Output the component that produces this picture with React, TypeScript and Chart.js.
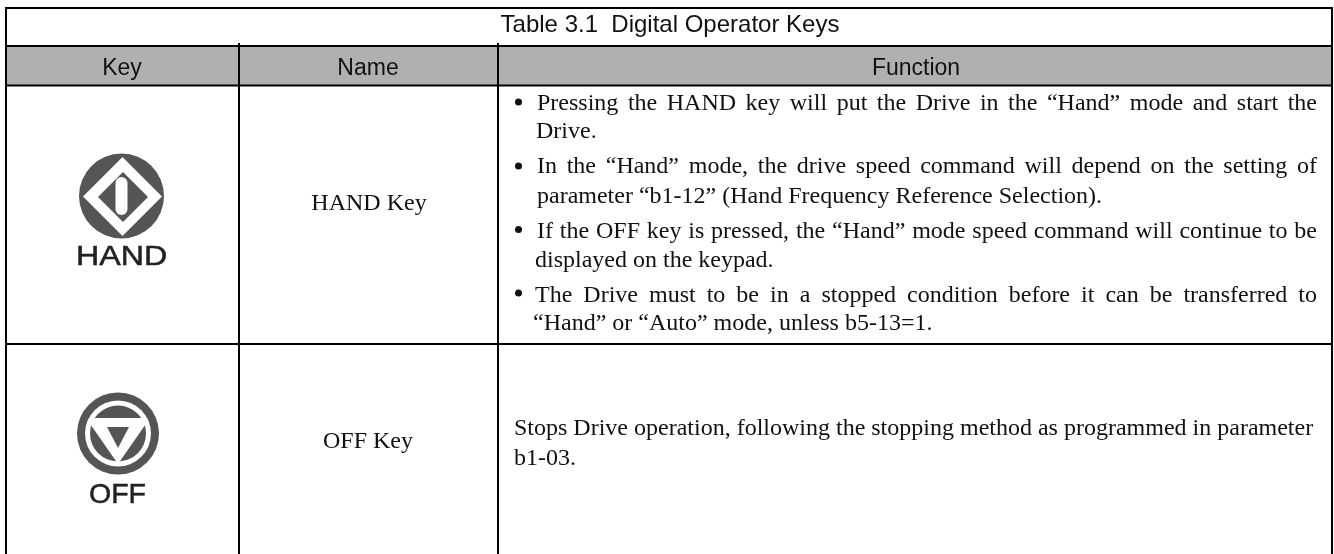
import React, { useEffect, useRef } from "react";
import { Chart, registerables } from "chart.js";

Chart.register(...registerables);

const tableTitle = "Table 3.1  Digital Operator Keys";
const headers = ["Key", "Name", "Function"];
const keyNames = ["HAND Key", "OFF Key"];
const keyGlyphLabels = ["HAND", "OFF"];
const handLines = [
  "Pressing the HAND key will put the Drive in the “Hand” mode and start the",
  "Drive.",
  "In the “Hand” mode, the drive speed command will depend on the setting of",
  "parameter “b1-12” (Hand Frequency Reference Selection).",
  "If the OFF key is pressed, the “Hand” mode speed command will continue to be",
  "displayed on the keypad.",
  "The Drive must to be in a stopped condition before it can be transferred to",
  "“Hand” or “Auto” mode, unless b5-13=1.",
];
const offLines = [
  "Stops Drive operation, following the stopping method as programmed in parameter",
  "b1-03.",
];

const SANS = '"Liberation Sans", Arial, sans-serif';
const SERIF = '"Liberation Serif", "Times New Roman", serif';
const INK = "#111";
const ICON = "#555";

function justify(ctx: CanvasRenderingContext2D, text: string, x0: number, x1: number, y: number) {
  const words = text.split(" ");
  const total = words.reduce((s, w) => s + ctx.measureText(w).width, 0);
  const gap = (x1 - x0 - total) / (words.length - 1);
  let x = x0;
  for (const w of words) {
    ctx.fillText(w, x, y);
    x += ctx.measureText(w).width + gap;
  }
}

function handIcon(ctx: CanvasRenderingContext2D) {
  const cx = 121.5, cy = 196;
  ctx.save();
  ctx.filter = "blur(0.6px)";
  ctx.fillStyle = ICON;
  ctx.beginPath(); ctx.arc(cx, cy, 42.5, 0, Math.PI * 2); ctx.fill();
  const diamond = (x: number, y: number, r: number, c: string) => {
    ctx.fillStyle = c;
    ctx.beginPath();
    ctx.moveTo(x, y - r); ctx.lineTo(x + r, y); ctx.lineTo(x, y + r); ctx.lineTo(x - r, y);
    ctx.closePath(); ctx.fill();
  };
  diamond(cx + 1, cy + 0.5, 39.5, "#fff");
  diamond(cx + 1.5, cy + 1, 25, ICON);
  ctx.fillStyle = "#fff";
  ctx.beginPath();
  ctx.roundRect(cx - 6, cy - 19, 12, 38, 6);
  ctx.fill();
  ctx.fillStyle = "#222";
  ctx.strokeStyle = "#222";
  ctx.lineWidth = 0.5;
  ctx.font = `28px ${SANS}`;
  ctx.textAlign = "left";
  ctx.textBaseline = "alphabetic";
  ctx.translate(76, 265);
  ctx.scale(1.15, 1);
  ctx.fillText(keyGlyphLabels[0], 0, 0);
  ctx.strokeText(keyGlyphLabels[0], 0, 0);
  ctx.restore();
}

function offIcon(ctx: CanvasRenderingContext2D) {
  const cx = 118, cy = 433.5;
  ctx.save();
  ctx.filter = "blur(0.6px)";
  const disk = (r: number, c: string) => {
    ctx.fillStyle = c;
    ctx.beginPath(); ctx.arc(cx, cy, r, 0, Math.PI * 2); ctx.fill();
  };
  disk(41, ICON);
  disk(33, "#fff");
  disk(28, ICON);
  ctx.save();
  ctx.beginPath(); ctx.arc(cx, cy, 33, 0, Math.PI * 2); ctx.clip();
  ctx.fillStyle = "#fff";
  ctx.beginPath();
  ctx.moveTo(cx - 32, 418); ctx.lineTo(cx + 32, 418); ctx.lineTo(cx, 464); ctx.closePath(); ctx.fill();
  ctx.restore();
  ctx.fillStyle = ICON;
  ctx.beginPath();
  ctx.moveTo(cx - 11, 427); ctx.lineTo(cx + 11, 427); ctx.lineTo(cx, 448); ctx.closePath(); ctx.fill();
  ctx.fillStyle = "#222";
  ctx.strokeStyle = "#222";
  ctx.lineWidth = 0.5;
  ctx.font = `28.5px ${SANS}`;
  ctx.textAlign = "center";
  ctx.textBaseline = "alphabetic";
  ctx.fillText(keyGlyphLabels[1], 117.5, 503);
  ctx.strokeText(keyGlyphLabels[1], 117.5, 503);
  ctx.restore();
}

const tablePlugin = {
  id: "tablePlugin",
  beforeDraw(chart: any) {
    const ctx: CanvasRenderingContext2D = chart.ctx;
    const L = 6, R = 1332, T = 8, B = 554, C1 = 239, C2 = 498;
    const Y1 = 46, Y2 = 85.5, Y3 = 344;
    ctx.save();
    ctx.fillStyle = "#fff";
    ctx.fillRect(0, 0, chart.width, chart.height);
    ctx.fillStyle = "#b0b0b0";
    ctx.fillRect(L, Y1, R - L, Y2 - Y1);
    ctx.strokeStyle = "#000";
    ctx.lineWidth = 2;
    ctx.beginPath();
    ctx.moveTo(L - 1, T); ctx.lineTo(R + 1, T);
    ctx.moveTo(L, Y1); ctx.lineTo(R, Y1);
    ctx.moveTo(L, Y2); ctx.lineTo(R, Y2);
    ctx.moveTo(L, Y3); ctx.lineTo(R, Y3);
    ctx.moveTo(L, T); ctx.lineTo(L, B);
    ctx.moveTo(R, T); ctx.lineTo(R, B);
    ctx.moveTo(C1, 43); ctx.lineTo(C1, B);
    ctx.moveTo(C2, 43); ctx.lineTo(C2, B);
    ctx.stroke();

    ctx.fillStyle = INK;
    ctx.textBaseline = "alphabetic";
    ctx.textAlign = "center";
    ctx.font = `24px ${SANS}`;
    ctx.fillText(tableTitle, 670, 32);
    ctx.font = `23px ${SANS}`;
    ctx.fillText(headers[0], 122, 75);
    ctx.fillText(headers[1], 368, 75);
    ctx.fillText(headers[2], 916, 75);

    ctx.font = `24px ${SERIF}`;
    ctx.fillText(keyNames[0], 369, 210);
    ctx.fillText(keyNames[1], 368, 448);

    ctx.textAlign = "left";
    const right = 1317;
    const bullets = [102, 166, 229.5, 293];
    bullets.forEach((y) => {
      ctx.beginPath();
      ctx.arc(518.5, y, 3.5, 0, Math.PI * 2);
      ctx.fill();
    });
    justify(ctx, handLines[0], 537, right, 110);
    ctx.fillText(handLines[1], 536, 138);
    justify(ctx, handLines[2], 537, right, 173);
    ctx.fillText(handLines[3], 537, 203);
    justify(ctx, handLines[4], 537, right, 238);
    ctx.fillText(handLines[5], 535, 267);
    justify(ctx, handLines[6], 535, right, 302);
    ctx.fillText(handLines[7], 533, 330);
    ctx.fillText(offLines[0], 514, 435);
    ctx.fillText(offLines[1], 514, 465);

    handIcon(ctx);
    offIcon(ctx);
    ctx.restore();
  },
};

export default function App() {
  const ref = useRef<HTMLCanvasElement>(null);
  useEffect(() => {
    document.body.style.margin = "0";
    const chart = new Chart(ref.current!, {
      type: "scatter",
      data: { datasets: [{ data: [] }] },
      options: {
        animation: false,
        responsive: false,
        layout: { padding: 0 },
        plugins: { legend: { display: false }, tooltip: { enabled: false }, title: { display: false } },
        scales: { x: { display: false }, y: { display: false } },
      },
      plugins: [tablePlugin],
    } as any);
    return () => chart.destroy();
  }, []);
  return <canvas ref={ref} width={1334} height={554} style={{ display: "block", width: 1334, height: 554 }} />;
}
